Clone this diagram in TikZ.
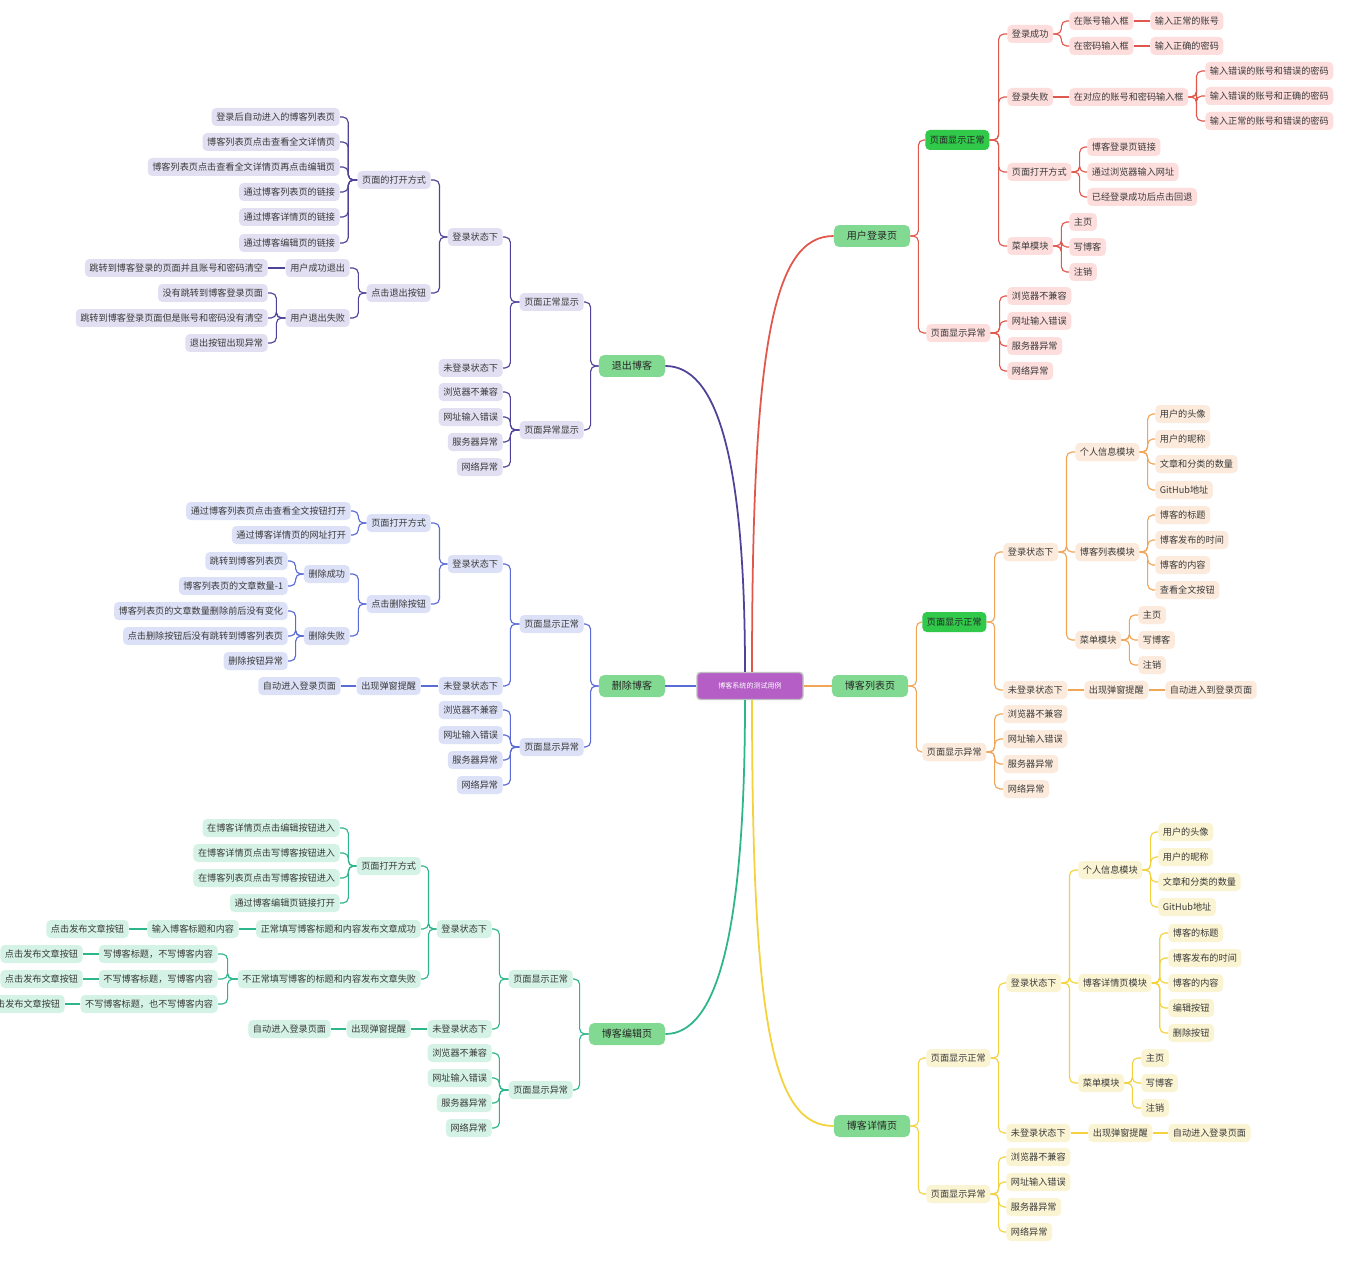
\documentclass[tikz,border=0pt]{standalone}
\usepackage{fontspec}
\setmainfont{Noto Sans CJK SC}
\usetikzlibrary{positioning}
\definecolor{RootPurple}{HTML}{B45EC6}
\definecolor{MainGreen}{HTML}{82DA92}
\definecolor{HiGreen}{HTML}{30C94A}
\definecolor{TxtGray}{HTML}{3A3A3A}
\definecolor{LgLine}{HTML}{E2574C}
\definecolor{LgFill}{HTML}{FDDEDD}
\definecolor{LsLine}{HTML}{F1A556}
\definecolor{LsFill}{HTML}{FCEBDC}
\definecolor{DtLine}{HTML}{F3D23B}
\definecolor{DtFill}{HTML}{FBF4D3}
\definecolor{EdLine}{HTML}{2DB58C}
\definecolor{EdFill}{HTML}{D4F2E6}
\definecolor{DlLine}{HTML}{5A6BD6}
\definecolor{DlFill}{HTML}{DDE1F7}
\definecolor{LoLine}{HTML}{4D4398}
\definecolor{LoFill}{HTML}{E1DFF1}

\begin{document}
\begin{tikzpicture}[
    x=0.02cm, y=-0.02cm,
    leaf/.style={rounded corners=2.5pt, inner xsep=2.6pt, inner ysep=0pt,
      minimum height=0.36cm, font=\fontsize{5.2}{6}\selectfont, text=TxtGray},
    lg/.style={leaf, fill=LgFill, anchor=west},
    ls/.style={leaf, fill=LsFill, anchor=west},
    dt/.style={leaf, fill=DtFill, anchor=west},
    lo/.style={leaf, fill=LoFill, anchor=east},
    dl/.style={leaf, fill=DlFill, anchor=east},
    ed/.style={leaf, fill=EdFill, anchor=east},
    hi/.style={leaf, fill=HiGreen, anchor=west, minimum height=0.4cm, text=black!85},
    main/.style={fill=MainGreen, rounded corners=3pt, inner xsep=7.4pt, inner ysep=0pt,
      minimum height=0.44cm, font=\fontsize{5.7}{7}\selectfont, text=black!85},
    rootbox/.style={fill=RootPurple, draw=black!25, line width=0.8pt, rounded corners=2pt,
      minimum width=2.12cm, minimum height=0.54cm, font=\fontsize{4}{5}\selectfont, text=white},
    lgl/.style={draw=LgLine, line width=0.65pt, rounded corners=3pt},
    lsl/.style={draw=LsLine, line width=0.65pt, rounded corners=3pt},
    dtl/.style={draw=DtLine, line width=0.65pt, rounded corners=3pt},
    lol/.style={draw=LoLine, line width=0.65pt, rounded corners=3pt},
    dll/.style={draw=DlLine, line width=0.65pt, rounded corners=3pt},
    edl/.style={draw=EdLine, line width=0.65pt, rounded corners=3pt},
    trunk/.style={line width=1pt}
  ]
    \useasboundingbox (0,0) rectangle (1371,1280);
    \fill[white] (0,0) rectangle (1371,1280);

    \node[rootbox] (root) at (750,686) {博客系统的测试用例};

    % 用户登录页
    \node[main] (login) at (872,236) {用户登录页};
    \node[hi] (lgOk) at (925,140) {页面显示正常};
    \node[lg] (lgErr) at (926,333) {页面显示异常};
    \foreach \nm/\yy/\txt in {lgSucc/34/登录成功, lgFail/97/登录失败, lgOpen/172/页面打开方式,
        lgMenu/246/菜单模块, lgE1/296/浏览器不兼容, lgE2/321/网址输入错误,
        lgE3/346/服务器异常, lgE4/371/网络异常}
      \node[lg] (\nm) at (1007,\yy) {\txt};
    \node[lg] (lgAcc) at (1069,21) {在账号输入框};
    \node[lg] (lgPwd) at (1069,46) {在密码输入框};
    \node[lg] (lgAccN) at (1150,21) {输入正常的账号};
    \node[lg] (lgPwdN) at (1150,46) {输入正确的密码};
    \node[lg] (lgBoth) at (1069,97) {在对应的账号和密码输入框};
    \foreach \nm/\yy/\txt in {lgF1/71/输入错误的账号和错误的密码, lgF2/96/输入错误的账号和正确的密码,
        lgF3/121/输入正常的账号和错误的密码}
      \node[lg] (\nm) at (1205,\yy) {\txt};
    \foreach \nm/\yy/\txt in {lgO1/147/博客登录页链接, lgO2/172/通过浏览器输入网址,
        lgO3/197/已经登录成功后点击回退}
      \node[lg] (\nm) at (1087,\yy) {\txt};
    \foreach \nm/\yy/\txt in {lgM1/222/主页, lgM2/247/写博客, lgM3/272/注销}
      \node[lg] (\nm) at (1069,\yy) {\txt};

    \foreach \c in {lgOk,lgErr} \draw[lgl] (login.east) -- ++(8,0) |- (\c.west);
    \foreach \c in {lgSucc,lgFail,lgOpen,lgMenu} \draw[lgl] (lgOk.east) -- ++(9,0) |- (\c.west);
    \foreach \c in {lgE1,lgE2,lgE3,lgE4} \draw[lgl] (lgErr.east) -- ++(9,0) |- (\c.west);
    \foreach \c in {lgAcc,lgPwd} \draw[lgl] (lgSucc.east) -- ++(8,0) |- (\c.west);
    \draw[lgl] (lgAcc) -- (lgAccN);
    \draw[lgl] (lgPwd) -- (lgPwdN);
    \draw[lgl] (lgFail) -- (lgBoth);
    \foreach \c in {lgF1,lgF2,lgF3} \draw[lgl] (lgBoth.east) -- ++(8,0) |- (\c.west);
    \foreach \c in {lgO1,lgO2,lgO3} \draw[lgl] (lgOpen.east) -- ++(8,0) |- (\c.west);
    \foreach \c in {lgM1,lgM2,lgM3} \draw[lgl] (lgMenu.east) -- ++(8,0) |- (\c.west);

    % 博客列表页
    \node[main] (list) at (870,686) {博客列表页};
    \node[hi] (lsOk) at (922,622) {页面显示正常};
    \node[ls] (lsErr) at (922,752) {页面显示异常};
    \node[ls] (lsIn) at (1003,552) {登录状态下};
    \node[ls] (lsOut) at (1003,690) {未登录状态下};
    \foreach \nm/\yy/\txt in {lsE1/714/浏览器不兼容, lsE2/739/网址输入错误, lsE3/764/服务器异常, lsE4/789/网络异常}
      \node[ls] (\nm) at (1003,\yy) {\txt};
    \node[ls] (lsInfo) at (1075,452) {个人信息模块};
    \node[ls] (lsBlog) at (1075,552) {博客列表模块};
    \node[ls] (lsMenu) at (1075,640) {菜单模块};
    \foreach \nm/\yy/\txt in {lsI1/414/用户的头像, lsI2/439/用户的昵称, lsI3/464/文章和分类的数量,
        lsI4/490/GitHub地址, lsB1/515/博客的标题, lsB2/540/博客发布的时间,
        lsB3/565/博客的内容, lsB4/590/查看全文按钮}
      \node[ls] (\nm) at (1155,\yy) {\txt};
    \foreach \nm/\yy/\txt in {lsM1/615/主页, lsM2/640/写博客, lsM3/665/注销}
      \node[ls] (\nm) at (1138,\yy) {\txt};
    \node[ls] (lsPop) at (1084,690) {出现弹窗提醒};
    \node[ls] (lsAuto) at (1165,690) {自动进入到登录页面};

    \foreach \c in {lsOk,lsErr} \draw[lsl] (list.east) -- ++(8,0) |- (\c.west);
    \foreach \c in {lsIn,lsOut} \draw[lsl] (lsOk.east) -- ++(8,0) |- (\c.west);
    \foreach \c in {lsE1,lsE2,lsE3,lsE4} \draw[lsl] (lsErr.east) -- ++(8,0) |- (\c.west);
    \foreach \c in {lsInfo,lsBlog,lsMenu} \draw[lsl] (lsIn.east) -- ++(8,0) |- (\c.west);
    \foreach \c in {lsI1,lsI2,lsI3,lsI4} \draw[lsl] (lsInfo.east) -- ++(8,0) |- (\c.west);
    \foreach \c in {lsB1,lsB2,lsB3,lsB4} \draw[lsl] (lsBlog.east) -- ++(8,0) |- (\c.west);
    \foreach \c in {lsM1,lsM2,lsM3} \draw[lsl] (lsMenu.east) -- ++(8,0) |- (\c.west);
    \draw[lsl] (lsOut) -- (lsPop);
    \draw[lsl] (lsPop) -- (lsAuto);

    % 博客详情页
    \node[main] (detail) at (872,1126) {博客详情页};
    \node[dt] (dtOk) at (926,1058) {页面显示正常};
    \node[dt] (dtErr) at (926,1194) {页面显示异常};
    \node[dt] (dtIn) at (1006,983) {登录状态下};
    \node[dt] (dtOut) at (1006,1133) {未登录状态下};
    \foreach \nm/\yy/\txt in {dtE1/1157/浏览器不兼容, dtE2/1182/网址输入错误, dtE3/1207/服务器异常, dtE4/1232/网络异常}
      \node[dt] (\nm) at (1006,\yy) {\txt};
    \node[dt] (dtInfo) at (1078,870) {个人信息模块};
    \node[dt] (dtPage) at (1078,983) {博客详情页模块};
    \node[dt] (dtMenu) at (1078,1083) {菜单模块};
    \foreach \nm/\yy/\txt in {dtI1/832/用户的头像, dtI2/857/用户的昵称, dtI3/882/文章和分类的数量, dtI4/907/GitHub地址}
      \node[dt] (\nm) at (1158,\yy) {\txt};
    \foreach \nm/\yy/\txt in {dtP1/933/博客的标题, dtP2/958/博客发布的时间, dtP3/983/博客的内容,
        dtP4/1008/编辑按钮, dtP5/1033/删除按钮}
      \node[dt] (\nm) at (1168,\yy) {\txt};
    \foreach \nm/\yy/\txt in {dtM1/1058/主页, dtM2/1083/写博客, dtM3/1108/注销}
      \node[dt] (\nm) at (1141,\yy) {\txt};
    \node[dt] (dtPop) at (1088,1133) {出现弹窗提醒};
    \node[dt] (dtAuto) at (1168,1133) {自动进入登录页面};

    \foreach \c in {dtOk,dtErr} \draw[dtl] (detail.east) -- ++(8,0) |- (\c.west);
    \foreach \c in {dtIn,dtOut} \draw[dtl] (dtOk.east) -- ++(8,0) |- (\c.west);
    \foreach \c in {dtE1,dtE2,dtE3,dtE4} \draw[dtl] (dtErr.east) -- ++(8,0) |- (\c.west);
    \foreach \c in {dtInfo,dtPage,dtMenu} \draw[dtl] (dtIn.east) -- ++(8,0) |- (\c.west);
    \foreach \c in {dtI1,dtI2,dtI3,dtI4} \draw[dtl] (dtInfo.east) -- ++(8,0) |- (\c.west);
    \foreach \c in {dtP1,dtP2,dtP3,dtP4,dtP5} \draw[dtl] (dtPage.east) -- ++(8,0) |- (\c.west);
    \foreach \c in {dtM1,dtM2,dtM3} \draw[dtl] (dtMenu.east) -- ++(8,0) |- (\c.west);
    \draw[dtl] (dtOut) -- (dtPop);
    \draw[dtl] (dtPop) -- (dtAuto);

    % 退出博客
    \node[main] (logout) at (632,366) {退出博客};
    \node[lo] (loOk) at (584,302) {页面正常显示};
    \node[lo] (loErr) at (584,430) {页面异常显示};
    \node[lo] (loIn) at (503,237) {登录状态下};
    \node[lo] (loOut) at (503,368) {未登录状态下};
    \foreach \nm/\yy/\txt in {loE1/392/浏览器不兼容, loE2/417/网址输入错误, loE3/442/服务器异常, loE4/467/网络异常}
      \node[lo] (\nm) at (503,\yy) {\txt};
    \node[lo] (loOpen) at (431,180) {页面的打开方式};
    \node[lo] (loBtn) at (431,293) {点击退出按钮};
    \foreach \nm/\yy/\txt in {loO1/117/登录后自动进入的博客列表页, loO2/142/博客列表页点击查看全文详情页,
        loO3/167/博客列表页点击查看全文详情页再点击编辑页, loO4/192/通过博客列表页的链接,
        loO5/217/通过博客详情页的链接, loO6/243/通过博客编辑页的链接}
      \node[lo] (\nm) at (340,\yy) {\txt};
    \node[lo] (loSucc) at (350,268) {用户成功退出};
    \node[lo] (loFail) at (350,318) {用户退出失败};
    \node[lo] (loS1) at (268,268) {跳转到博客登录的页面并且账号和密码清空};
    \foreach \nm/\yy/\txt in {loF1/293/没有跳转到博客登录页面, loF2/318/跳转到博客登录页面但是账号和密码没有清空,
        loF3/343/退出按钮出现异常}
      \node[lo] (\nm) at (268,\yy) {\txt};

    \foreach \c in {loOk,loErr} \draw[lol] (logout.west) -- ++(-8,0) |- (\c.east);
    \foreach \c in {loIn,loOut} \draw[lol] (loOk.west) -- ++(-9,0) |- (\c.east);
    \foreach \c in {loE1,loE2,loE3,loE4} \draw[lol] (loErr.west) -- ++(-9,0) |- (\c.east);
    \foreach \c in {loOpen,loBtn} \draw[lol] (loIn.west) -- ++(-8,0) |- (\c.east);
    \foreach \c in {loO1,loO2,loO3,loO4,loO5,loO6} \draw[lol] (loOpen.west) -- ++(-9,0) |- (\c.east);
    \foreach \c in {loSucc,loFail} \draw[lol] (loBtn.west) -- ++(-8,0) |- (\c.east);
    \draw[lol] (loSucc) -- (loS1);
    \foreach \c in {loF1,loF2,loF3} \draw[lol] (loFail.west) -- ++(-9,0) |- (\c.east);

    % 删除博客
    \node[main] (del) at (632,686) {删除博客};
    \node[dl] (dlOk) at (584,624) {页面显示正常};
    \node[dl] (dlErr) at (584,747) {页面显示异常};
    \node[dl] (dlIn) at (503,564) {登录状态下};
    \node[dl] (dlOut) at (503,686) {未登录状态下};
    \foreach \nm/\yy/\txt in {dlE1/710/浏览器不兼容, dlE2/735/网址输入错误, dlE3/760/服务器异常, dlE4/785/网络异常}
      \node[dl] (\nm) at (503,\yy) {\txt};
    \node[dl] (dlOpen) at (431,523) {页面打开方式};
    \node[dl] (dlBtn) at (431,604) {点击删除按钮};
    \node[dl] (dlO1) at (351,511) {通过博客列表页点击查看全文按钮打开};
    \node[dl] (dlO2) at (351,535) {通过博客详情页的网址打开};
    \node[dl] (dlSucc) at (350,574) {删除成功};
    \node[dl] (dlFail) at (350,636) {删除失败};
    \node[dl] (dlS1) at (288,561) {跳转到博客列表页};
    \node[dl] (dlS2) at (288,586) {博客列表页的文章数量-1};
    \foreach \nm/\yy/\txt in {dlF1/611/博客列表页的文章数量删除前后没有变化, dlF2/636/点击删除按钮后没有跳转到博客列表页,
        dlF3/661/删除按钮异常}
      \node[dl] (\nm) at (288,\yy) {\txt};
    \node[dl] (dlPop) at (421,686) {出现弹窗提醒};
    \node[dl] (dlAuto) at (341,686) {自动进入登录页面};

    \foreach \c in {dlOk,dlErr} \draw[dll] (del.west) -- ++(-8,0) |- (\c.east);
    \foreach \c in {dlIn,dlOut} \draw[dll] (dlOk.west) -- ++(-9,0) |- (\c.east);
    \foreach \c in {dlE1,dlE2,dlE3,dlE4} \draw[dll] (dlErr.west) -- ++(-9,0) |- (\c.east);
    \foreach \c in {dlOpen,dlBtn} \draw[dll] (dlIn.west) -- ++(-8,0) |- (\c.east);
    \foreach \c in {dlO1,dlO2} \draw[dll] (dlOpen.west) -- ++(-8,0) |- (\c.east);
    \foreach \c in {dlSucc,dlFail} \draw[dll] (dlBtn.west) -- ++(-8,0) |- (\c.east);
    \foreach \c in {dlS1,dlS2} \draw[dll] (dlSucc.west) -- ++(-8,0) |- (\c.east);
    \foreach \c in {dlF1,dlF2,dlF3} \draw[dll] (dlFail.west) -- ++(-8,0) |- (\c.east);
    \draw[dll] (dlOut) -- (dlPop);
    \draw[dll] (dlPop) -- (dlAuto);

    % 博客编辑页
    \node[main] (edit) at (627,1034) {博客编辑页};
    \node[ed] (edOk) at (573,979) {页面显示正常};
    \node[ed] (edErr) at (573,1090) {页面显示异常};
    \node[ed] (edIn) at (492,929) {登录状态下};
    \node[ed] (edOut) at (492,1029) {未登录状态下};
    \foreach \nm/\yy/\txt in {edE1/1053/浏览器不兼容, edE2/1078/网址输入错误, edE3/1103/服务器异常, edE4/1128/网络异常}
      \node[ed] (\nm) at (492,\yy) {\txt};
    \node[ed] (edOpen) at (421,866) {页面打开方式};
    \node[ed] (edGood) at (421,929) {正常填写博客标题和内容发布文章成功};
    \node[ed] (edBad) at (421,979) {不正常填写博客的标题和内容发布文章失败};
    \foreach \nm/\yy/\txt in {edO1/828/在博客详情页点击编辑按钮进入, edO2/853/在博客详情页点击写博客按钮进入,
        edO3/878/在博客列表页点击写博客按钮进入, edO4/903/通过博客编辑页链接打开}
      \node[ed] (\nm) at (340,\yy) {\txt};
    \node[ed] (edG1) at (239,929) {输入博客标题和内容};
    \node[ed] (edG2) at (129,929) {点击发布文章按钮};
    \foreach \nm/\yy/\txt in {edB1/954/写博客标题，不写博客内容, edB2/979/不写博客标题，写博客内容,
        edB3/1004/不写博客标题，也不写博客内容}
      \node[ed] (\nm) at (218,\yy) {\txt};
    \node[ed] (edB1a) at (83,954) {点击发布文章按钮};
    \node[ed] (edB2a) at (83,979) {点击发布文章按钮};
    \node[ed] (edB3a) at (65,1004) {点击发布文章按钮};
    \node[ed] (edPop) at (411,1029) {出现弹窗提醒};
    \node[ed] (edAuto) at (331,1029) {自动进入登录页面};

    \foreach \c in {edOk,edErr} \draw[edl] (edit.west) -- ++(-9,0) |- (\c.east);
    \foreach \c in {edIn,edOut} \draw[edl] (edOk.west) -- ++(-9,0) |- (\c.east);
    \foreach \c in {edE1,edE2,edE3,edE4} \draw[edl] (edErr.west) -- ++(-9,0) |- (\c.east);
    \foreach \c in {edOpen,edGood,edBad} \draw[edl] (edIn.west) -- ++(-8,0) |- (\c.east);
    \foreach \c in {edO1,edO2,edO3,edO4} \draw[edl] (edOpen.west) -- ++(-8,0) |- (\c.east);
    \draw[edl] (edGood) -- (edG1);
    \draw[edl] (edG1) -- (edG2);
    \foreach \c in {edB1,edB2,edB3} \draw[edl] (edBad.west) -- ++(-10,0) |- (\c.east);
    \draw[edl] (edB1) -- (edB1a);
    \draw[edl] (edB2) -- (edB2a);
    \draw[edl] (edB3) -- (edB3a);
    \draw[edl] (edOut) -- (edPop);
    \draw[edl] (edPop) -- (edAuto);

    % root to the six pages
    \draw[lgl, trunk] ([xshift=0.04cm]root.north) .. controls +(0,-330) and +(-60,0) .. (login.west);
    \draw[lol, trunk] ([xshift=-0.1cm]root.north) .. controls +(0,-220) and +(50,0) .. (logout.east);
    \draw[lsl, trunk] (root.east) -- (list.west);
    \draw[dll, trunk] (root.west) -- (del.east);
    \draw[dtl, trunk] ([xshift=0.04cm]root.south) .. controls +(0,330) and +(-60,0) .. (detail.west);
    \draw[edl, trunk] ([xshift=-0.1cm]root.south) .. controls +(0,240) and +(50,0) .. (edit.east);
\end{tikzpicture}
\end{document}
